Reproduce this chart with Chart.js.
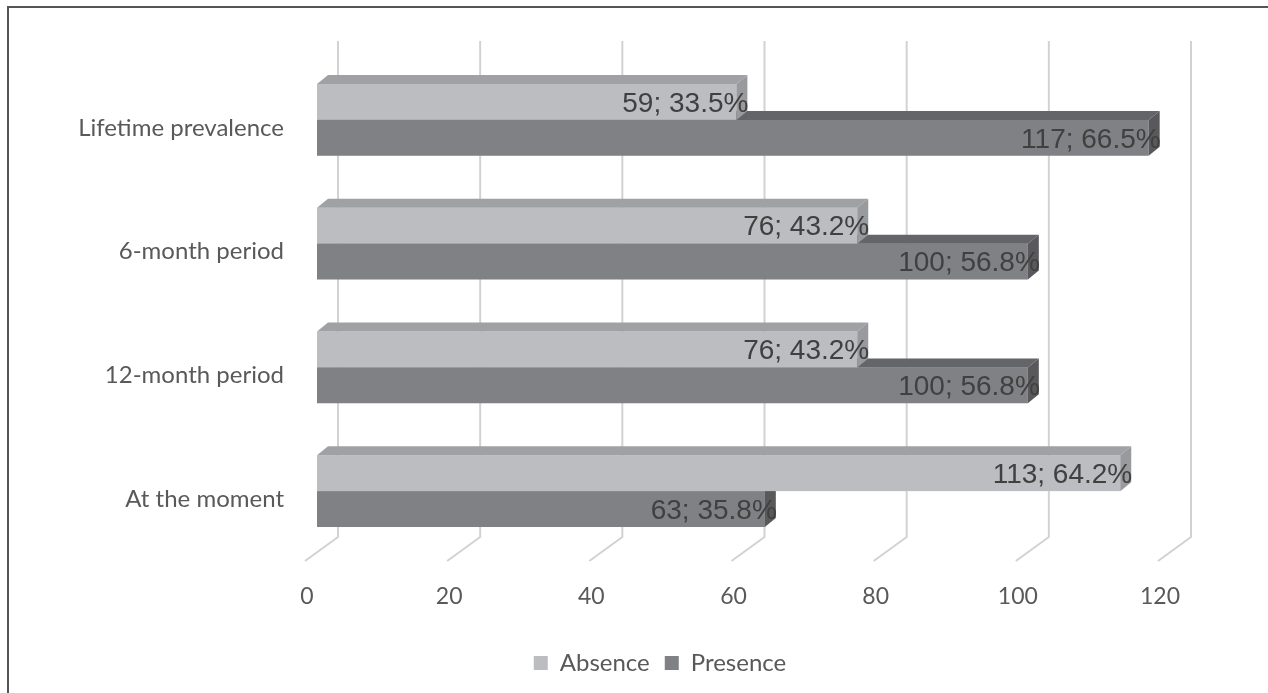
<!DOCTYPE html>
<html>
<head>
<meta charset="utf-8">
<script src="https://cdn.jsdelivr.net/npm/chart.js@4.4.1/dist/chart.umd.min.js"></script>
<style>
  html, body { margin: 0; padding: 0; background: #fff; }
  #wrap { position: relative; width: 1268px; height: 693px; }
  #frame {
    position: absolute; left: 7px; top: 6px; right: -10px; bottom: -10px;
    border-top: 2px solid #555; border-left: 2px solid #555;
    pointer-events: none;
  }
</style>
</head>
<body>
<div id="wrap">
  <canvas id="chart" width="1268" height="693"></canvas>
  <div id="frame"></div>
</div>
<script>
// data
const categories = ['Lifetime prevalence', '6-month period', '12-month period', 'At the moment'];
const absence = [59, 76, 76, 113];
const presence = [117, 100, 100, 63];
const absencePct = [33.5, 43.2, 43.2, 64.2];
const presencePct = [66.5, 56.8, 56.8, 35.8];
const xTicks = [0, 20, 40, 60, 80, 100, 120];

// 3d look: depth offset of the bars and of the back wall
const DEPTH_DX = 11, DEPTH_DY = -9;
const WALL_DX = 21;
const FLOOR_DX = -12;
const LEGEND_SHIFT = 75;

const faces = [
  { front: '#bcbdc0', top: '#a0a1a4', side: '#999a9d' },  // Absence
  { front: '#808184', top: '#646568', side: '#59595c' }   // Presence
];
const pcts = [absencePct, presencePct];

function drawBox(ctx, bar, f) {
  const left = Math.min(bar.base, bar.x), right = Math.max(bar.base, bar.x);
  const top = bar.y - bar.height / 2, bottom = bar.y + bar.height / 2;
  ctx.fillStyle = f.front;
  ctx.fillRect(left, top, right - left, bottom - top);
  ctx.fillStyle = f.top;
  ctx.beginPath();
  ctx.moveTo(left, top);
  ctx.lineTo(left + DEPTH_DX, top + DEPTH_DY);
  ctx.lineTo(right + DEPTH_DX, top + DEPTH_DY);
  ctx.lineTo(right, top);
  ctx.closePath();
  ctx.fill();
  ctx.fillStyle = f.side;
  ctx.beginPath();
  ctx.moveTo(right, top);
  ctx.lineTo(right + DEPTH_DX, top + DEPTH_DY);
  ctx.lineTo(right + DEPTH_DX, bottom + DEPTH_DY);
  ctx.lineTo(right, bottom);
  ctx.closePath();
  ctx.fill();
}

const depth3d = {
  id: 'depth3d',
  afterLayout(chart) {
    // legend sits a bit right of the canvas centre in the original
    chart.legend.left += LEGEND_SHIFT;
    chart.legend.right += LEGEND_SHIFT;
  },
  beforeDatasetsDraw(chart) {
    const ctx = chart.ctx, area = chart.chartArea, xs = chart.scales.x;
    ctx.save();
    // back wall gridlines and floor
    ctx.strokeStyle = '#d2d2d2';
    ctx.lineWidth = 2;
    xTicks.forEach(v => {
      const px = xs.getPixelForValue(v);
      ctx.beginPath();
      ctx.moveTo(px + WALL_DX, area.top - 17);
      ctx.lineTo(px + WALL_DX, area.bottom - 16);
      ctx.lineTo(px + FLOOR_DX, area.bottom + 8);
      ctx.stroke();
    });
    // presence first so the absence bar sits over its top face
    [1, 0].forEach(di => {
      chart.getDatasetMeta(di).data.forEach(bar => drawBox(ctx, bar, faces[di]));
    });
    // value labels
    ctx.font = '28px "Liberation Sans", Arial, sans-serif';
    ctx.fillStyle = '#404040';
    ctx.textAlign = 'right';
    ctx.textBaseline = 'middle';
    [0, 1].forEach(di => {
      const ds = chart.data.datasets[di];
      chart.getDatasetMeta(di).data.forEach((bar, i) => {
        ctx.fillText(ds.data[i] + '; ' + pcts[di][i].toFixed(1) + '%', bar.x + 12, bar.y + 2);
      });
    });
    ctx.restore();
    return false;
  }
};

new Chart(document.getElementById('chart'), {
  type: 'bar',
  data: {
    labels: categories,
    datasets: [
      { label: 'Absence', data: absence, backgroundColor: faces[0].front },
      { label: 'Presence', data: presence, backgroundColor: faces[1].front }
    ]
  },
  options: {
    indexAxis: 'y',
    responsive: false,
    animation: false,
    categoryPercentage: 0.58,
    barPercentage: 1,
    layout: { padding: { left: 0, right: 98, top: 58, bottom: 8 } },
    scales: {
      x: {
        min: 0, max: 120,
        ticks: {
          stepSize: 20, padding: 30, labelOffset: -10,
          color: '#595959', font: { family: 'Lato', size: 23 }
        },
        grid: { display: false, drawTicks: false },
        border: { display: false },
        afterFit(scale) { scale.height = 83; }
      },
      y: {
        ticks: {
          padding: 33, labelOffset: 8,
          color: '#595959', font: { family: 'Lato', size: 24 }
        },
        grid: { display: false, drawTicks: false },
        border: { display: false },
        afterFit(scale) { scale.width = 317; }
      }
    },
    plugins: {
      legend: {
        position: 'bottom',
        labels: {
          boxWidth: 14, boxHeight: 14, padding: 15,
          color: '#595959', font: { family: 'Lato', size: 24 }
        }
      },
      tooltip: { enabled: false }
    }
  },
  plugins: [depth3d]
});
</script>
</body>
</html>
